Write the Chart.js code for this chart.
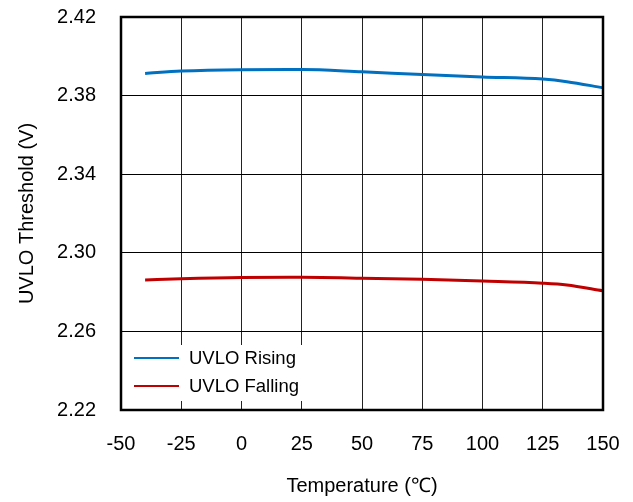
<!DOCTYPE html>
<html>
<head>
<meta charset="utf-8">
<script src="https://cdn.jsdelivr.net/npm/chart.js@4/dist/chart.umd.min.js"></script>
<style>
  html, body { margin: 0; padding: 0; background: #fff; }
  #wrap { width: 633px; height: 502px; }
</style>
</head>
<body>
<div id="wrap"><canvas id="uvlo" width="633" height="502"></canvas></div>
<script>
// Datos
const temps = [-40, -25, 0, 25, 50, 75, 100, 125, 135, 150];
const rising = [2.3913, 2.3925, 2.3932, 2.3933, 2.3921, 2.3907, 2.3895, 2.3884, 2.3871, 2.3840];
const falling = [2.2862, 2.2868, 2.2874, 2.2875, 2.2871, 2.2865, 2.2856, 2.2845, 2.2836, 2.2807];
const seriesNames = ["UVLO Rising", "UVLO Falling"];
const seriesColors = ["#0070C0", "#C00000"];
const xTicks = [-50, -25, 0, 25, 50, 75, 100, 125, 150];
const yTicks = [2.22, 2.26, 2.30, 2.34, 2.38, 2.42];

const FONT = "'Liberation Sans', Arial, sans-serif";

function toPoints(xs, ys) {
  return xs.map((x, i) => ({ x: x, y: ys[i] }));
}

// Marco del area de la grafica
const frame = {
  id: "frame",
  afterDraw(chart) {
    const { ctx, chartArea: a } = chart;
    ctx.save();
    ctx.strokeStyle = "#000";
    ctx.lineWidth = 2.5;
    ctx.strokeRect(a.left, a.top, a.right - a.left, a.bottom - a.top);
    ctx.restore();
  }
};

// Leyenda dentro del area, abajo a la izquierda
const innerLegend = {
  id: "innerLegend",
  afterDraw(chart) {
    const { ctx, chartArea: a } = chart;
    ctx.save();
    ctx.fillStyle = "#fff";
    ctx.fillRect(a.left + 2, a.bottom - 65, 180, 56);
    ctx.font = "18.5px " + FONT;
    ctx.textBaseline = "middle";
    chart.data.datasets.forEach((ds, i) => {
      const y = a.bottom - 52 + i * 28;
      ctx.strokeStyle = ds.borderColor;
      ctx.lineWidth = 2;
      ctx.beginPath();
      ctx.moveTo(a.left + 13, y);
      ctx.lineTo(a.left + 58, y);
      ctx.stroke();
      ctx.fillStyle = "#000";
      ctx.fillText(ds.label, a.left + 68, y + 1);
    });
    ctx.restore();
  }
};

const ctx = document.getElementById("uvlo");
new Chart(ctx, {
  type: "line",
  data: {
    datasets: [
      {
        label: seriesNames[0],
        data: toPoints(temps, rising),
        borderColor: seriesColors[0],
        borderWidth: 3,
        pointRadius: 0,
        cubicInterpolationMode: "monotone",
        fill: false
      },
      {
        label: seriesNames[1],
        data: toPoints(temps, falling),
        borderColor: seriesColors[1],
        borderWidth: 3,
        pointRadius: 0,
        cubicInterpolationMode: "monotone",
        fill: false
      }
    ]
  },
  options: {
    responsive: false,
    animation: false,
    layout: { padding: { top: 17, right: 30, left: 0, bottom: 0 } },
    plugins: {
      legend: { display: false },
      tooltip: { enabled: false }
    },
    scales: {
      x: {
        type: "linear",
        min: xTicks[0],
        max: xTicks[xTicks.length - 1],
        afterBuildTicks: (s) => { s.ticks = xTicks.map(v => ({ value: v })); },
        afterFit: (s) => { s.height = 92; s.paddingLeft = 0; s.paddingRight = 0; },
        grid: { color: "#222", lineWidth: 1, drawTicks: false },
        border: { display: false },
        ticks: {
          color: "#000",
          font: { family: FONT, size: 20 },
          padding: 22
        },
        title: {
          display: true,
          text: "Temperature (\u2103)",
          color: "#000",
          font: { family: FONT, size: 20 },
          padding: { top: 12 }
        }
      },
      y: {
        type: "linear",
        min: yTicks[0],
        max: yTicks[yTicks.length - 1],
        afterBuildTicks: (s) => { s.ticks = yTicks.map(v => ({ value: v })); },
        afterFit: (s) => { s.width = 121; s.paddingTop = 0; s.paddingBottom = 0; },
        grid: { color: "#000", lineWidth: 1, drawTicks: false },
        border: { display: false },
        ticks: {
          color: "#000",
          font: { family: FONT, size: 20 },
          padding: 25,
          callback: (v) => Number(v).toFixed(2)
        },
        title: {
          display: true,
          text: "UVLO Threshold (V)",
          color: "#000",
          font: { family: FONT, size: 20 },
          padding: { top: 15, bottom: 0 }
        }
      }
    }
  },
  plugins: [frame, innerLegend]
});
</script>
</body>
</html>
